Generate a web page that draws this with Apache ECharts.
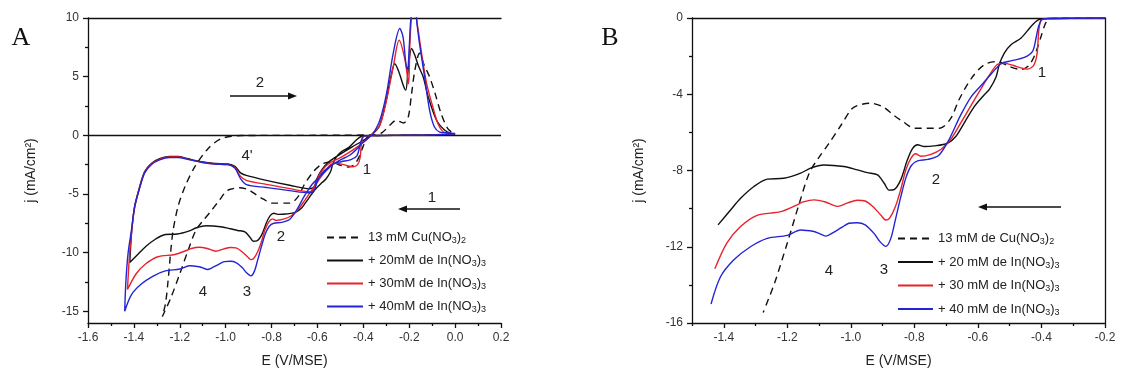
<!DOCTYPE html>
<html><head><meta charset="utf-8">
<script src="https://cdn.jsdelivr.net/npm/echarts@6/dist/echarts.min.js"></script>
<style>html,body{margin:0;padding:0;background:#fff}#c{width:1122px;height:374px}</style>
</head><body><div id="c"></div>
<script>
// ---------- names ----------
const namesA = ['13 mM Cu(NO₃)₂', '+ 20mM de In(NO₃)₃', '+ 30mM de In(NO₃)₃', '+ 40mM de In(NO₃)₃'];
const namesB = ['13 mM de Cu(NO₃)₂', '+ 20 mM de In(NO₃)₃', '+ 30 mM de In(NO₃)₃', '+ 40 mM de In(NO₃)₃'];

// ---------- tick values ----------
const aXTicksMin = -1.6, aXTicksMax = 0.2, aXStep = 0.2;
const aYMajor = [-15, -10, -5, 0, 5, 10];
const aYMinor = [-12.5, -7.5, -2.5, 2.5, 7.5];
const bXMajor = [-1.4, -1.2, -1.0, -0.8, -0.6, -0.4, -0.2];
const bXMinor = [-1.5, -1.3, -1.1, -0.9, -0.7, -0.5, -0.3];

// ---------- cathodic scans [E (V/MSE), j (mA/cm2)] ----------
const cuCath = [[-0.2,0],[-0.37,-0.02],[-0.385,-0.2],[-0.4,-0.9],[-0.42,-1.9],[-0.44,-2.5],[-0.465,-2.7],[-0.5,-2.55],[-0.54,-2.28],[-0.58,-2.45],[-0.62,-3.15],[-0.66,-4.3],[-0.685,-5.25],[-0.72,-5.78],[-0.8,-5.78],[-0.835,-5.45],[-0.865,-5.1],[-0.9,-4.65],[-0.94,-4.47],[-0.98,-4.6],[-1.0,-4.82],[-1.03,-5.6],[-1.07,-6.6],[-1.1,-7.3],[-1.13,-8.1],[-1.16,-9.6],[-1.2,-11.8],[-1.24,-13.9],[-1.276,-15.45]];
const in20Cath = [[-0.2,0],[-0.38,-0.03],[-0.41,-0.1],[-0.433,-0.45],[-0.464,-1.05],[-0.496,-1.4],[-0.517,-1.84],[-0.533,-2.45],[-0.543,-3.1],[-0.564,-3.75],[-0.58,-4.03],[-0.611,-4.64],[-0.643,-5.5],[-0.669,-6.2],[-0.696,-6.57],[-0.738,-6.71],[-0.769,-6.74],[-0.79,-6.65],[-0.806,-6.85],[-0.822,-7.44],[-0.843,-8.49],[-0.864,-9.0],[-0.88,-9.03],[-0.895,-8.67],[-0.916,-8.23],[-0.948,-8.11],[-0.979,-7.97],[-1.022,-7.79],[-1.085,-7.71],[-1.127,-7.88],[-1.158,-8.14],[-1.211,-8.41],[-1.263,-8.45],[-1.305,-8.84],[-1.347,-9.46],[-1.38,-10.1],[-1.418,-10.85]];
const in30Cath = [[-0.2,0],[-0.38,-0.03],[-0.4,-0.1],[-0.408,-0.6],[-0.414,-1.9],[-0.425,-2.5],[-0.445,-2.68],[-0.465,-2.62],[-0.49,-2.48],[-0.517,-2.38],[-0.54,-2.45],[-0.564,-3.0],[-0.59,-3.7],[-0.622,-4.6],[-0.654,-5.5],[-0.685,-6.35],[-0.717,-6.9],[-0.748,-7.15],[-0.78,-7.25],[-0.796,-7.12],[-0.811,-7.36],[-0.827,-7.97],[-0.843,-9.0],[-0.86,-9.9],[-0.878,-10.5],[-0.89,-10.6],[-0.905,-10.35],[-0.93,-9.9],[-0.955,-9.6],[-0.98,-9.56],[-1.01,-9.7],[-1.043,-9.88],[-1.08,-9.65],[-1.116,-9.54],[-1.15,-9.65],[-1.169,-9.8],[-1.221,-10.16],[-1.295,-10.35],[-1.348,-10.95],[-1.39,-11.8],[-1.428,-13.15]];
const in40Cath = [[-0.2,0],[-0.38,-0.03],[-0.4,-0.1],[-0.41,-0.5],[-0.417,-1.05],[-0.428,-1.75],[-0.454,-2.07],[-0.496,-2.25],[-0.527,-2.4],[-0.559,-2.95],[-0.585,-3.45],[-0.622,-4.15],[-0.656,-5.15],[-0.69,-6.35],[-0.723,-7.2],[-0.757,-7.42],[-0.79,-7.5],[-0.81,-7.75],[-0.827,-8.4],[-0.843,-9.4],[-0.86,-10.6],[-0.875,-11.6],[-0.89,-11.98],[-0.91,-11.7],[-0.927,-11.3],[-0.955,-10.85],[-0.98,-10.74],[-1.006,-10.77],[-1.03,-11.0],[-1.06,-11.3],[-1.079,-11.44],[-1.1,-11.3],[-1.116,-11.2],[-1.158,-11.12],[-1.2,-11.4],[-1.263,-11.56],[-1.316,-12.0],[-1.369,-12.7],[-1.411,-13.6],[-1.44,-15.0]];

// ---------- start of the full CV in panel A ----------
const aScanStart = [[0.0,0.12],[-0.1,0.03]];

// ---------- anodic (return) scans for panel A ----------
const cuAnod = [[-1.262,-14.3],[-1.251,-12.4],[-1.239,-9.8],[-1.229,-8.1],[-1.208,-6.1],[-1.178,-4.4],[-1.135,-2.7],[-1.077,-1.14],[-1.019,-0.28],[-0.93,-0.02],[-0.6,0],[-0.35,0.05],[-0.32,0.2],[-0.285,0.85],[-0.256,1.28],[-0.225,1.05],[-0.205,1.5],[-0.19,3.5],[-0.175,5.6],[-0.155,7.0],[-0.135,6.0],[-0.111,4.97],[-0.087,3.55],[-0.061,1.85],[-0.032,0.57],[-0.01,0.2],[0.0,0.12]];
const in20Anod = [[-1.41,-8.3],[-1.397,-6.1],[-1.375,-4.4],[-1.353,-3.1],[-1.324,-2.4],[-1.288,-2.0],[-1.244,-1.8],[-1.208,-1.8],[-1.164,-2.0],[-1.106,-2.25],[-1.047,-2.4],[-0.99,-2.45],[-0.96,-2.65],[-0.935,-3.2],[-0.91,-3.42],[-0.823,-3.84],[-0.721,-4.26],[-0.634,-4.55],[-0.615,-4.4],[-0.6,-3.6],[-0.58,-2.9],[-0.55,-2.25],[-0.5,-1.6],[-0.45,-1.0],[-0.41,-0.55],[-0.38,-0.2],[-0.36,0.1],[-0.33,0.8],[-0.3,3.0],[-0.28,5.0],[-0.263,6.1],[-0.245,5.4],[-0.225,4.2],[-0.215,3.85],[-0.205,5.5],[-0.19,7.4],[-0.175,6.8],[-0.161,5.97],[-0.139,4.97],[-0.117,3.27],[-0.081,1.28],[-0.045,0.43],[-0.016,0.15],[0.0,0.1]];
const in30Anod = [[-1.42,-10.5],[-1.41,-8.2],[-1.397,-6.2],[-1.375,-4.45],[-1.353,-3.15],[-1.324,-2.45],[-1.288,-2.05],[-1.244,-1.85],[-1.208,-1.85],[-1.164,-2.05],[-1.106,-2.3],[-1.047,-2.45],[-0.99,-2.5],[-0.96,-2.75],[-0.935,-3.5],[-0.91,-3.84],[-0.823,-4.18],[-0.721,-4.55],[-0.634,-4.8],[-0.615,-4.6],[-0.6,-3.7],[-0.58,-3.0],[-0.55,-2.4],[-0.5,-1.9],[-0.45,-1.3],[-0.42,-0.9],[-0.38,-0.25],[-0.36,0.15],[-0.328,0.85],[-0.299,2.98],[-0.27,5.8],[-0.244,8.1],[-0.218,6.4],[-0.203,4.4],[-0.197,7.8],[-0.188,10.4],[-0.175,10.6],[-0.165,9.5],[-0.15,7.5],[-0.125,4.5],[-0.097,2.41],[-0.075,1.0],[-0.052,0.3],[-0.02,0.15],[0.0,0.1]];
const in40Anod = [[-1.435,-12.5],[-1.425,-10.0],[-1.41,-8.0],[-1.397,-6.1],[-1.375,-4.5],[-1.353,-3.2],[-1.324,-2.5],[-1.288,-2.1],[-1.244,-1.9],[-1.208,-1.9],[-1.164,-2.05],[-1.106,-2.3],[-1.047,-2.45],[-0.99,-2.5],[-0.96,-2.8],[-0.935,-3.7],[-0.91,-4.2],[-0.823,-4.45],[-0.721,-4.72],[-0.634,-4.9],[-0.615,-4.7],[-0.6,-3.9],[-0.58,-3.2],[-0.55,-2.7],[-0.5,-2.1],[-0.46,-1.7],[-0.43,-1.2],[-0.4,-0.6],[-0.37,-0.1],[-0.357,0.14],[-0.328,1.28],[-0.299,3.55],[-0.27,6.96],[-0.241,9.1],[-0.227,8.4],[-0.214,6.0],[-0.207,5.6],[-0.2,7.5],[-0.19,10.4],[-0.175,10.6],[-0.165,9.3],[-0.155,7.8],[-0.133,4.97],[-0.111,2.13],[-0.09,0.71],[-0.067,0.28],[-0.03,0.2],[0.0,0.15]];

// ---------- styling ----------
const colors = ['#111111', '#111111', '#e8222a', '#2424d6'];
const dash = [7, 5];
const FONT = '"Liberation Sans", Arial, sans-serif';
const fmt1 = v => (Math.round(v * 10) / 10).toFixed(1);
const subFmt = name => '{n|' + name.replace(/[₂₃]/g, m => '}{s|' + (m === '₂' ? '2' : '3') + '}{n|') + '}';

const cathodic = [cuCath, in20Cath, in30Cath, in40Cath];
const anodic = [cuAnod, in20Anod, in30Anod, in40Anod];

const series = [];
for (let i = 0; i < 4; i++) {
  const ls = { color: colors[i], width: 1.4, type: i === 0 ? dash : 'solid' };
  const a = {
    name: namesA[i], type: 'line', xAxisIndex: 0, yAxisIndex: 0,
    data: aScanStart.concat(cathodic[i], anodic[i]),
    showSymbol: false, symbol: 'none', smooth: 0.3, clip: true,
    lineStyle: ls, itemStyle: { color: colors[i] }, z: 2 + i
  };
  if (i === 0) {
    a.markLine = { silent: true, symbol: ['none', 'none'], label: { show: false },
      lineStyle: { color: '#111', type: 'solid', width: 1.3 }, data: [{ yAxis: 0 }] };
  }
  series.push(a);
  series.push({
    name: namesB[i], type: 'line', xAxisIndex: 2, yAxisIndex: 2,
    data: cathodic[i], showSymbol: false, symbol: 'none', smooth: 0.3, clip: true,
    lineStyle: ls, itemStyle: { color: colors[i] }, z: 2 + i
  });
}

const axisLineStyle = { color: '#111', width: 1.3 };
const labelStyle = { color: '#333', fontSize: 12, fontFamily: FONT };
const nameStyle = { color: '#222', fontSize: 14, fontFamily: FONT };
const legendText = { color: '#222', fontSize: 13, fontFamily: FONT,
  rich: { n: { fontSize: 13, fontFamily: FONT, color: '#222' }, s: { fontSize: 9, fontFamily: FONT, color: '#222', padding: [7, 0, 0, 0] } } };

const option = {
  animation: false,
  backgroundColor: '#fff',
  grid: [
    { left: 88, top: 18, width: 413, height: 305 },
    { left: 692, top: 18, width: 413, height: 305 }
  ],
  xAxis: [
    { gridIndex: 0, type: 'value', min: aXTicksMin, max: aXTicksMax, interval: aXStep, position: 'bottom',
      axisLine: { show: true, onZero: false, lineStyle: axisLineStyle },
      axisTick: { show: true, length: 5, lineStyle: axisLineStyle },
      minorTick: { show: true, splitNumber: 2, length: 3, lineStyle: axisLineStyle },
      splitLine: { show: false }, minorSplitLine: { show: false },
      axisLabel: Object.assign({ formatter: fmt1, margin: 9 }, labelStyle),
      name: 'E (V/MSE)', nameLocation: 'middle', nameGap: 31, nameTextStyle: nameStyle },
    { gridIndex: 0, type: 'value', min: aXTicksMin, max: aXTicksMax, position: 'top',
      axisLine: { show: true, onZero: false, lineStyle: axisLineStyle },
      axisTick: { show: false }, axisLabel: { show: false }, splitLine: { show: false } },
    { gridIndex: 1, type: 'value', min: -1.5, max: -0.2, position: 'bottom',
      axisLine: { show: true, onZero: false, lineStyle: axisLineStyle },
      axisTick: { show: true, length: 5, customValues: bXMajor, lineStyle: axisLineStyle },
      splitLine: { show: false },
      axisLabel: Object.assign({ customValues: bXMajor, formatter: fmt1, margin: 9 }, labelStyle),
      name: 'E (V/MSE)', nameLocation: 'middle', nameGap: 31, nameTextStyle: nameStyle },
    { gridIndex: 1, type: 'value', min: -1.5, max: -0.2, position: 'bottom',
      axisLine: { show: false, onZero: false },
      axisTick: { show: true, length: 3, customValues: bXMinor, lineStyle: axisLineStyle },
      axisLabel: { show: false }, splitLine: { show: false } },
    { gridIndex: 1, type: 'value', min: -1.5, max: -0.2, position: 'top',
      axisLine: { show: true, onZero: false, lineStyle: axisLineStyle },
      axisTick: { show: false }, axisLabel: { show: false }, splitLine: { show: false } }
  ],
  yAxis: [
    { gridIndex: 0, type: 'value', min: -16, max: 10, position: 'left',
      axisLine: { show: true, onZero: false, lineStyle: axisLineStyle },
      axisTick: { show: true, length: 5, customValues: aYMajor, lineStyle: axisLineStyle },
      splitLine: { show: false },
      axisLabel: Object.assign({ customValues: aYMajor, margin: 9 }, labelStyle),
      name: 'j (mA/cm²)', nameLocation: 'middle', nameGap: 50, nameTextStyle: nameStyle },
    { gridIndex: 0, type: 'value', min: -16, max: 10, position: 'left',
      axisLine: { show: false, onZero: false },
      axisTick: { show: true, length: 3, customValues: aYMinor, lineStyle: axisLineStyle },
      axisLabel: { show: false }, splitLine: { show: false } },
    { gridIndex: 1, type: 'value', min: -16, max: 0, interval: 4, position: 'left',
      axisLine: { show: true, onZero: false, lineStyle: axisLineStyle },
      axisTick: { show: true, length: 5, lineStyle: axisLineStyle },
      minorTick: { show: true, splitNumber: 2, length: 3, lineStyle: axisLineStyle },
      splitLine: { show: false }, minorSplitLine: { show: false },
      axisLabel: Object.assign({ margin: 9 }, labelStyle),
      name: 'j (mA/cm²)', nameLocation: 'middle', nameGap: 46, nameTextStyle: nameStyle },
    { gridIndex: 1, type: 'value', min: -16, max: 0, position: 'right',
      axisLine: { show: true, onZero: false, lineStyle: axisLineStyle },
      axisTick: { show: false }, axisLabel: { show: false }, splitLine: { show: false } }
  ],
  legend: [
    { data: namesA, orient: 'vertical', left: 326, top: 231, padding: 0, itemWidth: 36, itemHeight: 14, itemGap: 8.5,
      itemStyle: { opacity: 0 }, formatter: subFmt, textStyle: legendText, selectedMode: false },
    { data: namesB, orient: 'vertical', left: 897, top: 232, padding: 0, itemWidth: 35, itemHeight: 14, itemGap: 9,
      itemStyle: { opacity: 0 }, formatter: subFmt, textStyle: legendText, selectedMode: false }
  ],
  series: series,
  graphic: [
    { type: 'text', x: 21, y: 38, style: { text: 'A', font: '26px "Liberation Serif", "DejaVu Serif", serif', fill: '#111', align: 'center', verticalAlign: 'middle', textAlign: 'center', textVerticalAlign: 'middle' } },
    { type: 'text', x: 610, y: 38, style: { text: 'B', font: '26px "Liberation Serif", "DejaVu Serif", serif', fill: '#111', align: 'center', verticalAlign: 'middle', textAlign: 'center', textVerticalAlign: 'middle' } }
  ]
};

const annot = [
  ['2', 260, 83], ['1', 432, 198], ["4'", 247, 156], ['1', 367, 170], ['2', 281, 237], ['4', 203, 292], ['3', 247, 292],
  ['1', 1042, 73], ['2', 936, 180], ['4', 829, 271], ['3', 884, 270]
];
annot.forEach(a => option.graphic.push({ type: 'text', x: a[1], y: a[2],
  style: { text: a[0], font: '15px ' + FONT, fill: '#222', align: 'center', verticalAlign: 'middle', textAlign: 'center', textVerticalAlign: 'middle' } }));

function arrow(x1, x2, y) {
  const dir = x2 > x1 ? 1 : -1;
  option.graphic.push({ type: 'line', shape: { x1: x1, y1: y, x2: x2 - dir * 6, y2: y }, style: { stroke: '#111', lineWidth: 1.5 } });
  option.graphic.push({ type: 'polygon', shape: { points: [[x2, y], [x2 - dir * 9, y - 3.5], [x2 - dir * 9, y + 3.5]] }, style: { fill: '#111' } });
}
arrow(230, 297, 96);
arrow(460, 398, 209);
arrow(1061, 978, 207);

const chart = echarts.init(document.getElementById('c'), null, { renderer: 'canvas' });
chart.setOption(option);
</script></body></html>
